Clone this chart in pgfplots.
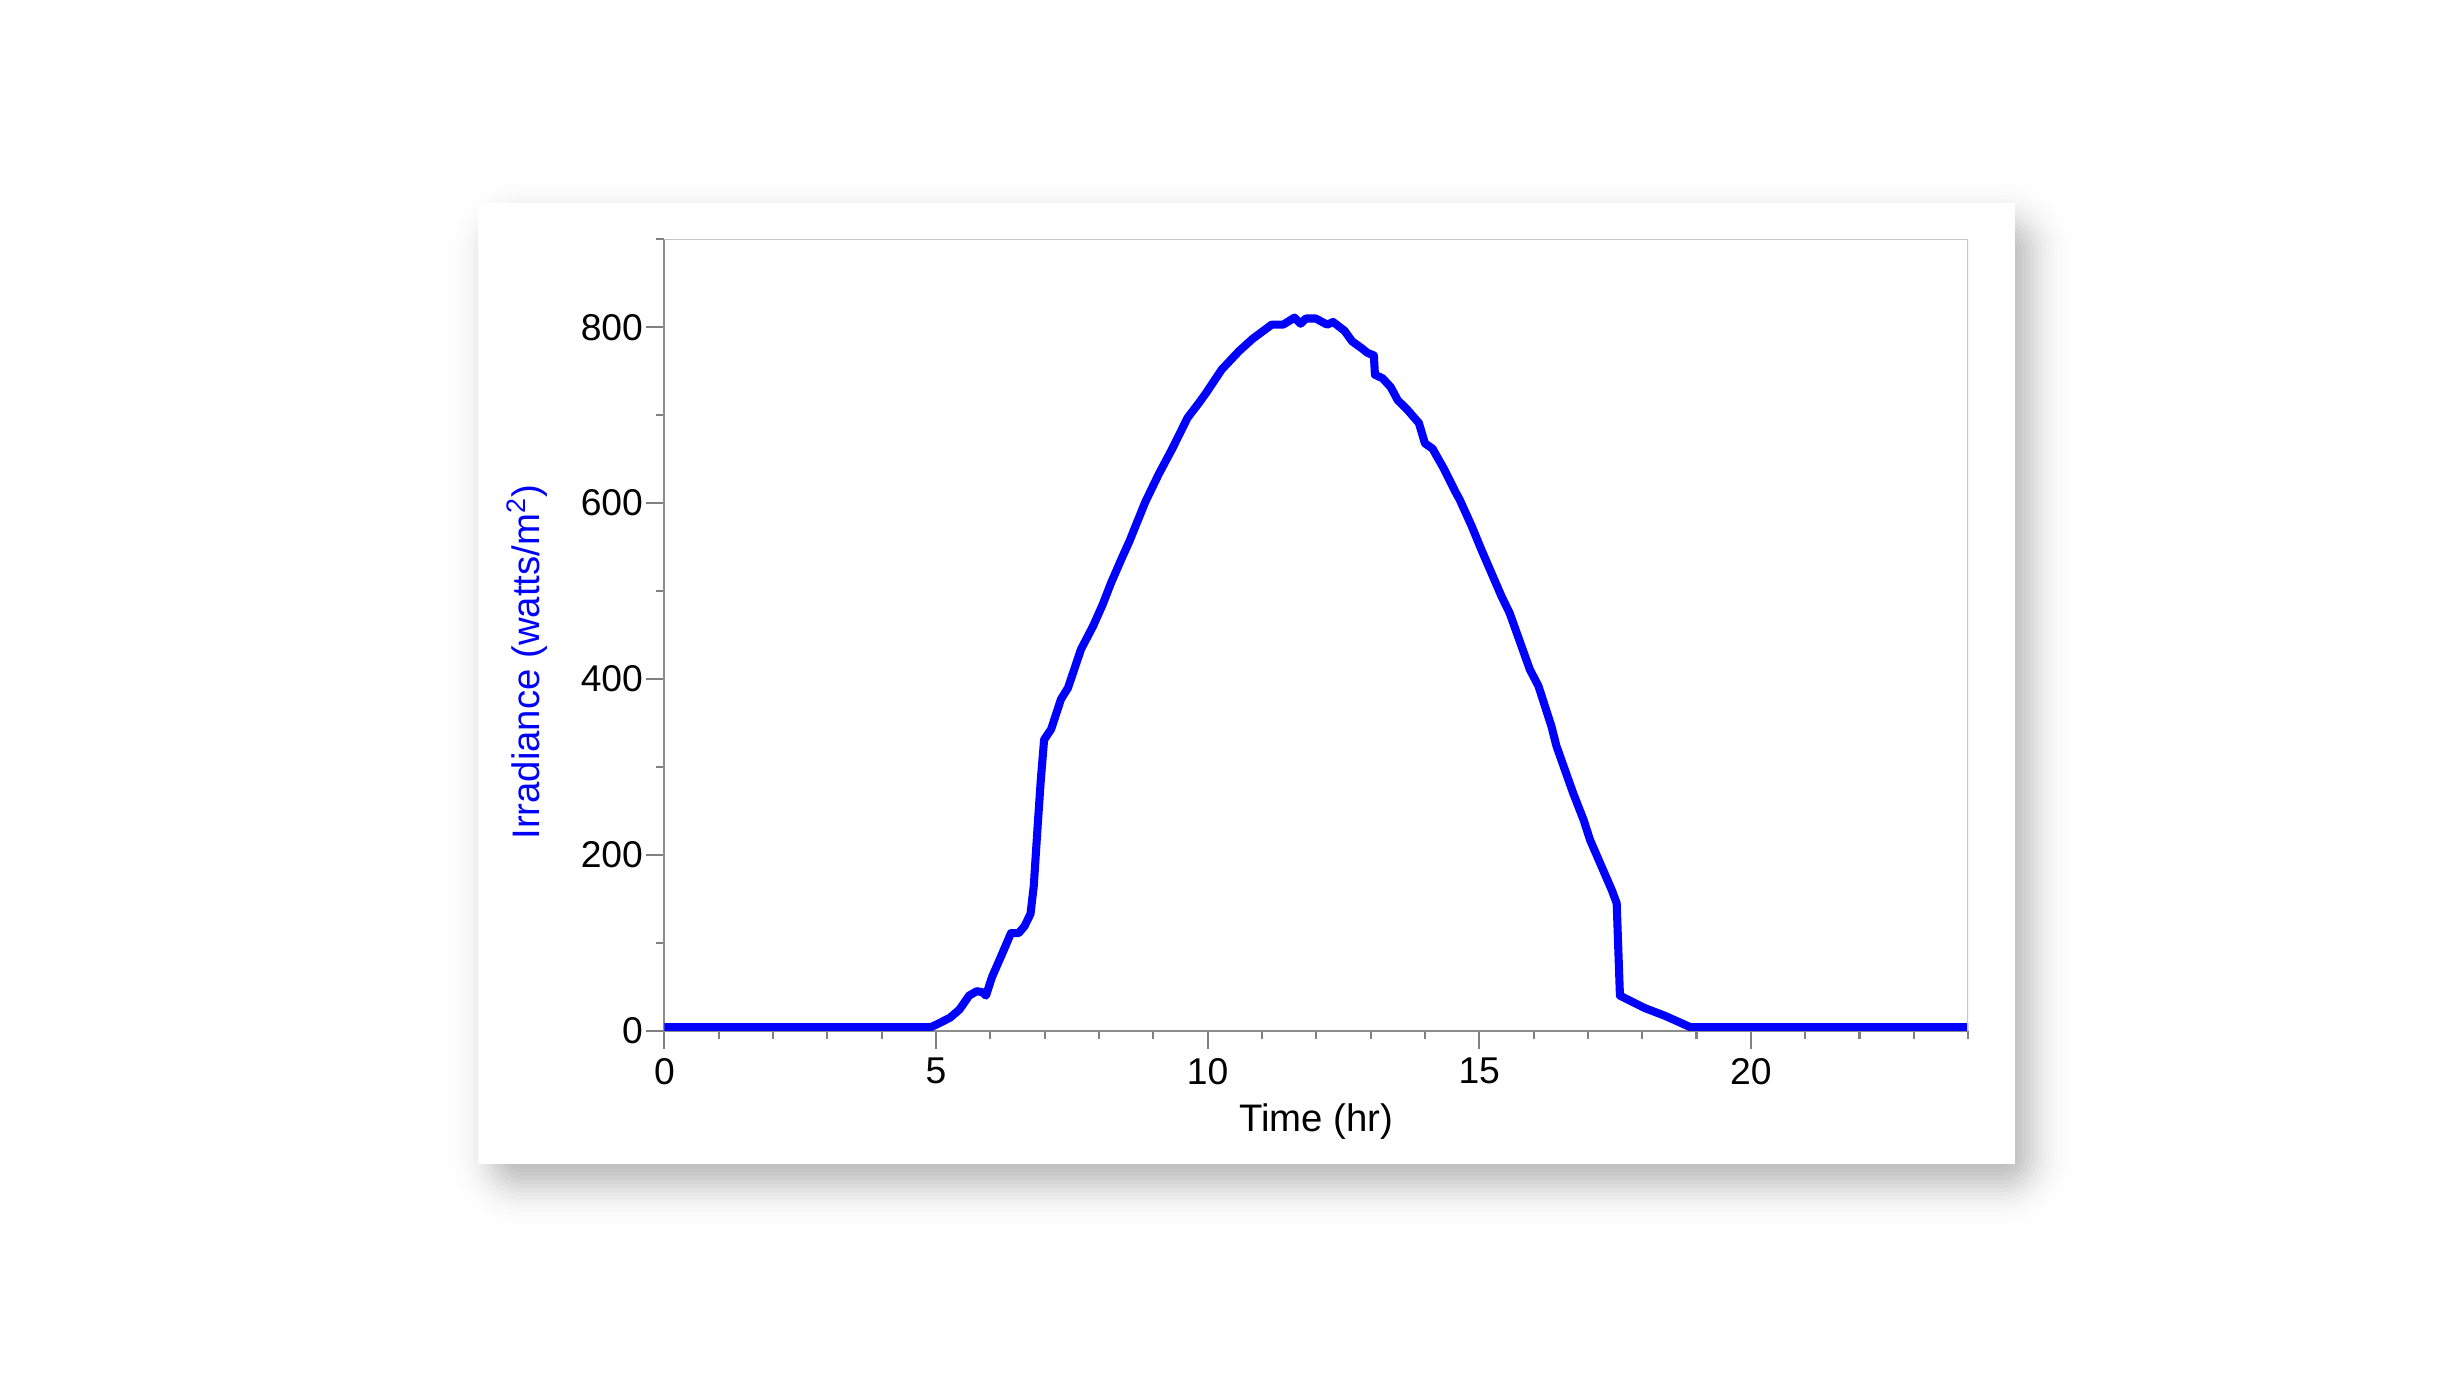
\documentclass[border=0pt]{standalone}
\usepackage{fontspec}
\setmainfont{Liberation Sans}
\usepackage{pgfplots}
\pgfplotsset{compat=1.18}
\pgfplotstableread{
t v
0 4
4.90 4
5.04 8
5.26 15
5.43 24
5.61 40
5.75 45
5.85 44
5.92 40
6.03 61
6.20 85
6.38 111
6.52 111
6.63 119
6.74 133
6.80 165
6.87 232
6.93 286
6.99 331
7.12 343
7.30 377
7.43 390
7.67 434
7.89 460
8.07 485
8.22 509
8.41 536
8.57 558
8.68 575
8.85 601
9.10 633
9.35 662
9.63 697
9.84 714
9.98 726
10.26 752
10.58 773
10.83 787
11.18 803
11.39 803
11.60 811
11.71 804
11.81 810
11.99 810
12.20 803
12.31 806
12.52 796
12.66 784
12.84 776
12.94 771
13.06 768
13.08 746
13.22 742
13.37 732
13.50 717
13.68 706
13.89 691
14.00 668
14.14 662
14.35 639
14.56 613
14.64 604
14.86 574
15.04 547
15.41 494
15.56 475
15.93 411
16.09 392
16.33 346
16.42 324
16.73 270
16.92 240
17.04 217
17.44 160
17.53 145
17.59 40
18.04 26
18.42 17
18.89 4
24 4
}\irr
\begin{document}
\begin{tikzpicture}[x=0.01cm,y=0.01cm]
\fill[white] (0,0) rectangle (2443,1374);
\path[use as bounding box] (0,0) rectangle (2443,1374);
\foreach \s in {-60,-56,...,60}{
  \pgfmathsetmacro\op{0.06*0.39894*exp(-0.5*(\s/20)^2)}
  \pgfmathsetmacro\rc{max(\s+30,2)*0.01}
  \pgfmathsetmacro\xa{493-\s}
  \pgfmathsetmacro\ya{190-\s}
  \pgfmathsetmacro\xb{2030+\s}
  \pgfmathsetmacro\yb{1151+\s}
  \fill[black, opacity=\op, rounded corners=\rc cm] (\xa,\ya) rectangle (\xb,\yb);
}
\fill[white] (478,210) rectangle (2015,1171);
\begin{axis}[
  at={(6.64cm,3.43cm)}, anchor=south west,
  scale only axis, width=13.03cm, height=7.91cm,
  xmin=0, xmax=24, ymin=0, ymax=900,
  axis x line*=bottom, axis y line*=left,
  axis line style={-, draw=black!45, line width=0.6pt},
  xtick={0,5,10,15,20},
  minor xtick={1,2,3,4,6,7,8,9,11,12,13,14,16,17,18,19,21,22,23,24},
  ytick={0,200,400,600,800}, minor ytick={100,300,500,700,900},
  tick align=outside, major tick length=0.18cm, minor tick length=0.08cm,
  every tick/.style={black!50, line width=0.6pt},
  ticklabel style={font=\fontsize{10.6}{12}\selectfont},
  yticklabel style={xshift=0.09cm},
  xticklabel style={yshift=0.03cm},
  /pgf/number format/assume math mode=true,
  xlabel={Time (hr)},
  ylabel={Irradiance (watts/m\textsuperscript{2})},
  xlabel style={at={(axis description cs:0.5,-0.115)}, anchor=center, font=\fontsize{10.9}{12}\selectfont},
  ylabel style={at={(axis description cs:-0.105,0.466)}, anchor=center, font=\fontsize{10.9}{12}\selectfont, text=blue},
]
\addplot[color=blue, line width=2.3pt, line join=round] table[x=t,y=v] {\irr};
\draw[black!22, line width=0.6pt] (rel axis cs:0,1) -- (rel axis cs:1,1) -- (rel axis cs:1,0);
\end{axis}
\end{tikzpicture}
\end{document}
